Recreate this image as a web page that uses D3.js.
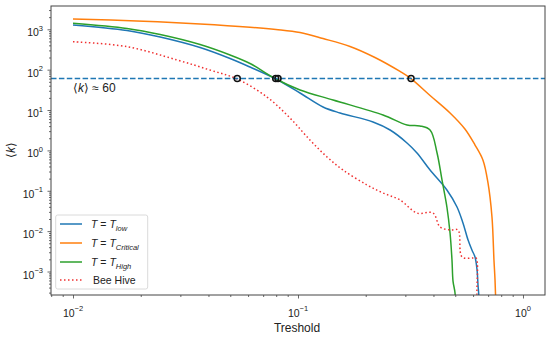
<!DOCTYPE html>
<html><head><meta charset="utf-8">
<script src="https://cdn.jsdelivr.net/npm/d3@7"></script>
<style>body{margin:0;background:#fff}svg{display:block}text{font-family:"Liberation Sans",Arial,sans-serif}</style>
</head><body><svg id="c" width="550" height="339"></svg>
<script>
// ---- data ----
const seriesNames = ["low", "Critical", "High", "Bee Hive"];
const lowT  = [0.01,0.01738,0.0244,0.0367,0.0499,0.0612,0.0798,0.1021,0.1292,0.1538,0.2155,0.2566,0.3051,0.338,0.3863,0.459,0.509,0.541,0.570,0.593,0.612,0.625,0.631,0.636,0.6375];
const lowK  = [1279,934,644,354,189,116,58.7,26.4,11.9,8.45,5.06,3.20,1.53,0.863,0.327,0.1045,0.0396,0.0159,0.0060,0.0034,0.00229,0.00109,0.00046,0.00026,0.0001];
const critT = [0.01,0.0192,0.0367,0.0612,0.0798,0.1021,0.1292,0.1703,0.2198,0.2841,0.3178,0.3863,0.474,0.552,0.612,0.664,0.699,0.728,0.743,0.751,0.759];
const critK = [1800,1606,1353,1127,989,833,591,375,200,90.2,60,22.9,8.45,3.39,1.36,0.573,0.156,0.0224,0.0019,0.00062,0.0001];
const highT = [0.01,0.01738,0.0244,0.0367,0.0499,0.0612,0.0798,0.1021,0.1432,0.2388,0.3051,0.3483,0.3863,0.415,0.4365,0.459,0.474,0.4835,0.4886,0.4989,0.50];
const highK = [1410,1047,743,420,231,142,58.7,31.4,17.7,7.54,4.26,4.03,3.20,0.863,0.185,0.0396,0.0090,0.00193,0.00058,0.00029,0.0001];
const hiveT = [0.01,0.01738,0.0290,0.0406,0.0536,0.0728,0.0921,0.1130,0.1346,0.1585,0.2028,0.2388,0.2841,0.3380,0.398,0.428,0.474,0.514,0.536,0.600,0.619,0.624,0.626];
const hiveK = [493,371,174,98,58.7,21.0,6.35,1.81,0.687,0.327,0.139,0.0881,0.0591,0.0281,0.0281,0.0127,0.0107,0.0107,0.00229,0.00216,0.00216,0.00029,0.0001];
const kLevel = 60;
const crossT = [0.0537, 0.0796, 0.0815, 0.318];
const xTicks = [0.01, 0.1, 1];
const xTickExp = ["-2", "-1", "0"];
const yTicks = [1e-3, 1e-2, 1e-1, 1, 10, 100, 1000];
const yTickExp = ["-3", "-2", "-1", "0", "1", "2", "3"];
const colors = ["#1f77b4", "#ff7f0e", "#2ca02c", "#f03030"];

// ---- layout ----
const L = 51, R = 545, T = 6, B = 295;
const svg = d3.select("#c");
const x = d3.scaleLog().domain([Math.pow(10,-2.0978), Math.pow(10,0.0978)]).range([L, R]);
const y = d3.scaleLog().domain([Math.pow(10,-3.582), Math.pow(10,3.577)]).range([B, T]);

svg.append("defs").append("clipPath").attr("id","clip")
  .append("rect").attr("x",L).attr("y",T).attr("width",R-L).attr("height",B-T);

// minor ticks
function minors(lo, hi){ const out=[]; for(let e=lo;e<=hi;e++) for(let m=2;m<=9;m++) out.push(m*Math.pow(10,e)); return out; }
const xMin = minors(-3,0).filter(v=>v>=x.domain()[0]&&v<=x.domain()[1]);
const yMin = minors(-4,3).filter(v=>v>=y.domain()[0]&&v<=y.domain()[1]);
const axCol = "#444";
const gx = svg.append("g").attr("transform",`translate(0,${B})`);
gx.call(d3.axisBottom(x).tickValues(xMin).tickSize(2).tickFormat(""));
gx.append("g").call(d3.axisBottom(x).tickValues(xTicks).tickSize(3.5).tickFormat(""));
const gy = svg.append("g").attr("transform",`translate(${L},0)`);
gy.call(d3.axisLeft(y).tickValues(yMin).tickSize(2).tickFormat(""));
gy.append("g").call(d3.axisLeft(y).tickValues(yTicks).tickSize(3.5).tickFormat(""));
svg.selectAll(".domain").remove();
svg.selectAll(".tick line").attr("stroke", axCol).attr("stroke-width", 0.8);

// tick labels
xTicks.forEach((v,i)=>{
  const t = svg.append("text").attr("x", x(v)).attr("y", 316.5).attr("text-anchor","middle")
    .attr("font-size",10.5).attr("fill","#222");
  t.append("tspan").text("10");
  t.append("tspan").attr("dy",-5.5).attr("font-size",7.5).text(xTickExp[i].replace("-","\u2212"));
});
yTicks.forEach((v,i)=>{
  const t = svg.append("text").attr("x", 43).attr("y", y(v)+7).attr("text-anchor","end")
    .attr("font-size",10.5).attr("fill","#222");
  t.append("tspan").text("10");
  t.append("tspan").attr("dy",-5.5).attr("font-size",7.5).text(yTickExp[i].replace("-","\u2212"));
});

// axis titles
svg.append("text").attr("x", 297).attr("y", 332).attr("text-anchor","middle")
  .attr("font-size",12).attr("fill","#222").text("Treshold");
const yl = svg.append("text").attr("transform","translate(15,150) rotate(-90)").attr("text-anchor","middle")
  .attr("font-size",12).attr("fill","#222").attr("font-family","DejaVu Sans");
yl.append("tspan").text("\u27E8");
yl.append("tspan").attr("font-style","italic").text("k");
yl.append("tspan").text("\u27E9");

// lines
const plot = svg.append("g").attr("clip-path","url(#clip)");
const line = d3.line().x(d=>x(d[0])).y(d=>y(d[1])).curve(d3.curveCatmullRom.alpha(0.5));
const series = [[lowT,lowK],[critT,critK],[highT,highK],[hiveT,hiveK]];
series.forEach((s,i)=>{
  const pts = s[0].map((t,j)=>[t, s[1][j]]);
  plot.append("path").attr("d", line(pts)).attr("fill","none")
    .attr("stroke", colors[i]).attr("stroke-width", 1.5)
    .attr("stroke-dasharray", i===3 ? "1.5,2.5" : null);
});
// horizontal level
plot.append("line").attr("x1",L).attr("x2",R).attr("y1",y(kLevel)).attr("y2",y(kLevel))
  .attr("stroke","#1f77b4").attr("stroke-width",1.5).attr("stroke-dasharray","5.5,2.4");
// crossing markers
crossT.forEach(t=>{
  plot.append("circle").attr("cx",x(t)).attr("cy",y(kLevel)).attr("r",3)
    .attr("fill","none").attr("stroke","#111").attr("stroke-width",1.5);
});
// annotation
const ann = svg.append("text").attr("x",73).attr("y",92).attr("font-size",12).attr("fill","#222")
  .attr("font-family","DejaVu Sans");
ann.append("tspan").text("\u27E8");
ann.append("tspan").attr("font-style","italic").text("k");
ann.append("tspan").text("\u27E9 \u2248 60");

// frame
svg.append("rect").attr("x",L).attr("y",T).attr("width",R-L).attr("height",B-T)
  .attr("fill","none").attr("stroke",axCol).attr("stroke-width",1);

// legend
const lg = svg.append("g");
lg.append("rect").attr("x",55.7).attr("y",215).attr("width",92).attr("height",74).attr("rx",2)
  .attr("fill","#fff").attr("fill-opacity",0.85).attr("stroke","#d0d0d0").attr("stroke-width",0.8);
const ly = [224, 243, 262, 280];
seriesNames.forEach((n,i)=>{
  lg.append("line").attr("x1",60).attr("x2",82).attr("y1",ly[i]).attr("y2",ly[i])
    .attr("stroke",colors[i]).attr("stroke-width",1.5).attr("stroke-dasharray", i===3 ? "1.5,2.5" : null);
  const t = lg.append("text").attr("x",91).attr("y",ly[i]+4).attr("font-size",10.5).attr("fill","#222");
  if (i===3) { t.attr("x",93).text(n); }
  else {
    t.append("tspan").attr("font-style","italic").text("T");
    t.append("tspan").text(" = ");
    t.append("tspan").attr("font-style","italic").text("T");
    t.append("tspan").attr("font-style","italic").attr("font-size",7.5).attr("dy",2.5).text(n);
  }
});
</script></body></html>
